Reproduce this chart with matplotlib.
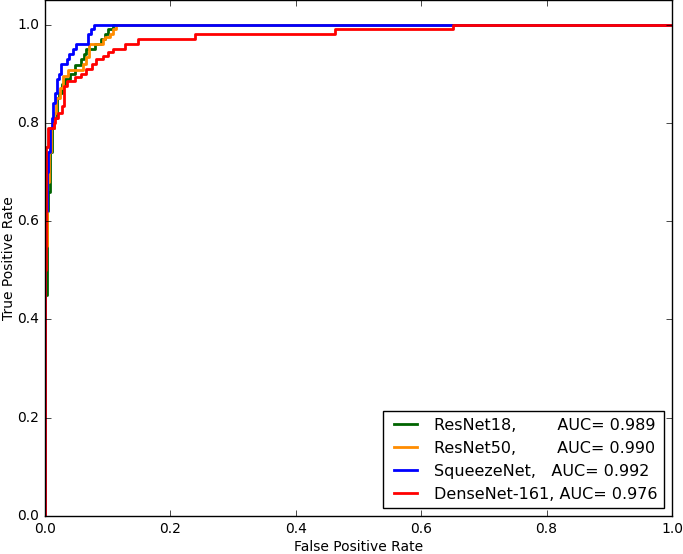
import matplotlib
matplotlib.use('Agg')
import matplotlib.pyplot as plt

plt.style.use('classic')

# ROC 曲线的拐点 (fpr, tpr)，按 steps-post 画
resnet18_fpr = [0.0, 0.0, 0.003, 0.005, 0.008, 0.011, 0.014, 0.019, 0.022, 0.027, 0.032, 0.040, 0.048, 0.057, 0.062, 0.066, 0.080, 0.090, 0.096, 0.100, 0.108, 1.0]
resnet18_tpr = [0.0, 0.45, 0.62, 0.66, 0.74, 0.79, 0.81, 0.85, 0.86, 0.88, 0.89, 0.90, 0.917, 0.93, 0.94, 0.95, 0.96, 0.97, 0.98, 0.99, 1.0, 1.0]

resnet50_fpr = [0.0, 0.0, 0.003, 0.006, 0.010, 0.014, 0.018, 0.024, 0.029, 0.037, 0.060, 0.066, 0.070, 0.093, 0.096, 0.104, 0.108, 0.113, 1.0]
resnet50_tpr = [0.0, 0.55, 0.68, 0.74, 0.79, 0.82, 0.85, 0.87, 0.896, 0.908, 0.92, 0.935, 0.96, 0.97, 0.975, 0.98, 0.99, 1.0, 1.0]

squeezenet_fpr = [0.0, 0.0, 0.003, 0.005, 0.008, 0.011, 0.013, 0.016, 0.019, 0.022, 0.026, 0.035, 0.038, 0.045, 0.050, 0.069, 0.073, 0.078, 1.0]
squeezenet_tpr = [0.0, 0.62, 0.70, 0.74, 0.79, 0.81, 0.84, 0.86, 0.89, 0.90, 0.92, 0.93, 0.94, 0.95, 0.96, 0.98, 0.99, 1.0, 1.0]

densenet_fpr = [0.0, 0.0, 0.002, 0.005, 0.014, 0.016, 0.021, 0.027, 0.030, 0.035, 0.048, 0.058, 0.066, 0.075, 0.082, 0.092, 0.101, 0.108, 0.128, 0.148, 0.239, 0.463, 0.651, 1.0]
densenet_tpr = [0.0, 0.50, 0.75, 0.79, 0.80, 0.81, 0.82, 0.835, 0.876, 0.886, 0.893, 0.90, 0.91, 0.92, 0.93, 0.937, 0.945, 0.951, 0.96, 0.97, 0.98, 0.99, 1.0, 1.0]

labels = ['ResNet18,        AUC= 0.989',
          'ResNet50,        AUC= 0.990',
          'SqueezeNet,   AUC= 0.992',
          'DenseNet-161, AUC= 0.976']
colors = ['#006400', '#ff8c00', '#0000ff', '#ff0000']

fig = plt.figure(figsize=(6.83, 5.54), dpi=100, facecolor='white')
ax = fig.add_axes([45 / 683, 38 / 554, 627 / 683, 516 / 554])

curves = [(resnet18_fpr, resnet18_tpr), (resnet50_fpr, resnet50_tpr),
          (squeezenet_fpr, squeezenet_tpr), (densenet_fpr, densenet_tpr)]
for (fpr, tpr), lab, c in zip(curves, labels, colors):
    ax.plot(fpr, tpr, drawstyle='steps-post', color=c, lw=2, label=lab)

ax.set_xlim(0, 1.0)
ax.set_ylim(0, 1.05)
ax.set_xticks([0.0, 0.2, 0.4, 0.6, 0.8, 1.0])
ax.set_yticks([0.0, 0.2, 0.4, 0.6, 0.8, 1.0])
ax.tick_params(labelsize=10)
ax.set_xlabel('False Positive Rate', fontsize=10, labelpad=3)
ax.set_ylabel('True Positive Rate', fontsize=10, labelpad=1)
ax.legend(loc='lower right', fontsize=11.5, handlelength=2)

fig.savefig('out.png', dpi=100, facecolor='white')
